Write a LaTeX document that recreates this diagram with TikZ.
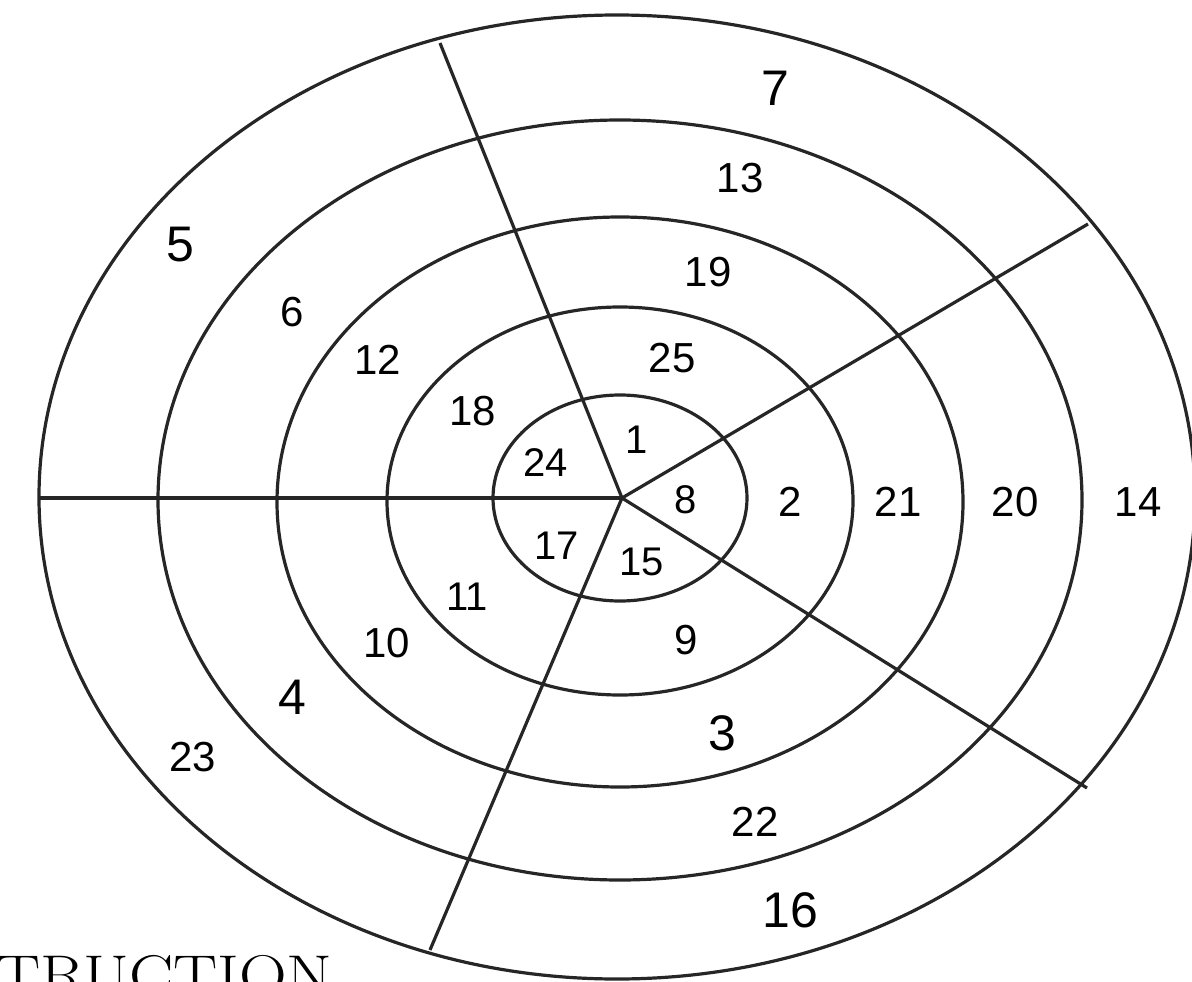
\documentclass[tikz,border=0pt]{standalone}
\usepackage{fontspec}
\newfontfamily\numfont{Liberation Sans}
\begin{document}
\begin{tikzpicture}[x=1pt,y=-1pt,
  ring/.style={draw=black!85,line width=3.2pt},
  spoke/.style={draw=black!85,line width=3.2pt},
  big/.style={font=\numfont\fontsize{50}{50}\selectfont},
  mid/.style={font=\numfont\fontsize{42}{42}\selectfont},
  sml/.style={font=\numfont\fontsize{40}{40}\selectfont}]
\useasboundingbox (0,0) rectangle (1192,982);
\coordinate (c) at (622,498);
\coordinate (eL) at (40,498);
\coordinate (eU) at (440,43);
\coordinate (eLL) at (430,950);
\coordinate (eUR) at (1088,224);
\coordinate (eLR) at (1087,788);
\draw[ring] (617,497) ellipse [x radius=578, y radius=482];
\draw[ring] (620,500) ellipse [x radius=462, y radius=380];
\draw[ring] (620,502) ellipse [x radius=343, y radius=285];
\draw[ring] (620,501) ellipse [x radius=233, y radius=194];
\draw[ring] (620,498) ellipse [x radius=127, y radius=103];
\draw[spoke] (c) -- (eL);
\draw[spoke] (c) -- (eU);
\draw[spoke] (c) -- (eLL);
\draw[spoke] (c) -- (eUR);
\draw[spoke] (c) -- (eLR);
\node[big] (n7) at (775,88) {7};
\node[mid] (n13) at (740,178) {13};
\node[mid] (n19) at (708,272) {19};
\node[mid] (n25) at (672,358) {25};
\node[sml] (n1) at (637,440) {1};
\node[sml] (n8) at (686,500) {8};
\node[mid] (n2) at (790,502) {2};
\node[mid] (n21) at (898,502) {21};
\node[mid] (n20) at (1015,502) {20};
\node[mid] (n14) at (1138,502) {14};
\node[sml] (n15) at (642,562) {15};
\node[mid] (n9) at (686,640) {9};
\node[big] (n3) at (722,733) {3};
\node[mid] (n22) at (755,822) {22};
\node[big] (n16) at (790,910) {16};
\node[sml] (n17) at (557,546) {17};
\node[sml] (n11) at (467,597) {11};
\node[mid] (n10) at (387,643) {10};
\node[big] (n4) at (292,697) {4};
\node[mid] (n23) at (193,757) {23};
\node[sml] (n24) at (546,463) {24};
\node[mid] (n18) at (473,411) {18};
\node[mid] (n12) at (378,360) {12};
\node[mid] (n6) at (292,312) {6};
\node[big] (n5) at (180,245) {5};
\node[anchor=north west,inner sep=0pt,xscale=1.18,font=\fontsize{56}{56}\selectfont] (tr) at (-4,955) {TRUCTION};
\end{tikzpicture}
\end{document}
